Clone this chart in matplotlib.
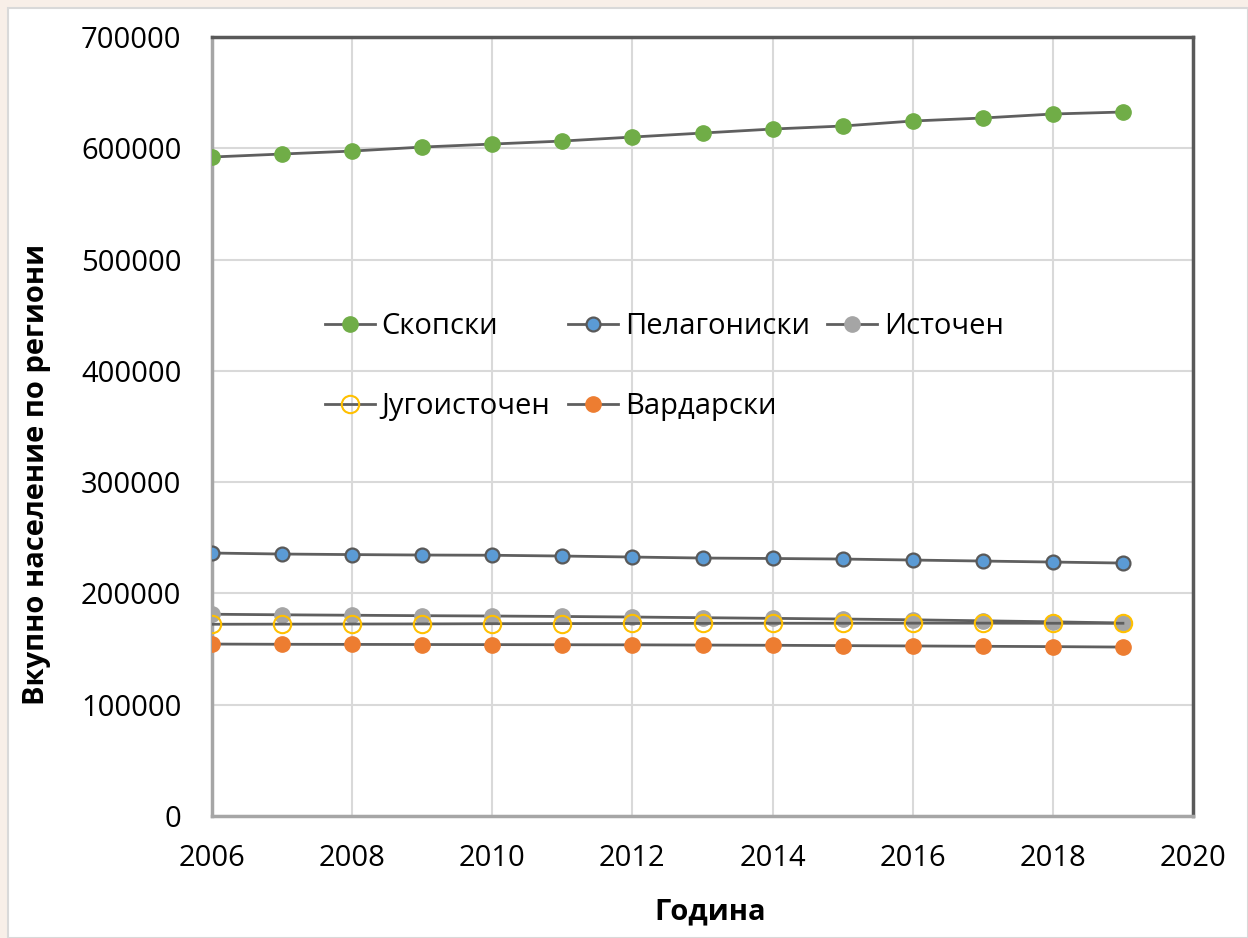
import matplotlib
matplotlib.use("Agg")
import matplotlib.pyplot as plt
from matplotlib.patches import Rectangle

plt.rcParams['font.family'] = ['Open Sans', 'DejaVu Sans']

years = list(range(2006, 2020))
skopski = [592150, 594850, 597500, 601100, 603800, 606500, 610100, 613700,
           617300, 620000, 624500, 627200, 630800, 632600]
pelagoniski = [236300, 235400, 234900, 234500, 234300, 233600, 232700, 231800,
               231400, 230900, 230000, 229100, 228200, 227300]
istochen = [181300, 180800, 180400, 180000, 179700, 179300, 178800, 178200,
            177600, 177000, 176300, 175400, 174500, 173400]
jugoistochen = [172300, 172400, 172500, 172600, 172800, 172900, 173000, 173100,
                173200, 173200, 173300, 173300, 173200, 173200]
vardarski = [154500, 154300, 154200, 154100, 154000, 153900, 153800, 153600,
             153400, 153100, 152800, 152500, 152200, 151800]

series_names = ['Скопски', 'Пелагониски', 'Источен', 'Југоисточен', 'Вардарски']

FS = 21

fig = plt.figure(figsize=(12.48, 9.38), dpi=100)
fig.patch.set_facecolor('#f8efe8')
fig.patches.append(Rectangle((8/1248, 0), 1 - 8/1248, 1 - 8/938,
                             transform=fig.transFigure, facecolor='white',
                             edgecolor='#d9d9d9', linewidth=1.5, zorder=-10))

ax = fig.add_axes([212/1248, 1 - 816/938, (1193 - 212)/1248, (816 - 37)/938])
ax.set_zorder(1)
ax.set_facecolor('white')

line_color = '#5f5f5f'
h_sk, = ax.plot(years, skopski, color=line_color, lw=2, marker='o', ms=11,
                mfc='#70ad47', mec='#70ad47', label=series_names[0], zorder=3)
h_pe, = ax.plot(years, pelagoniski, color=line_color, lw=2, marker='o', ms=10,
                mfc='#5b9bd5', mec='#595959', mew=1.6, label=series_names[1], zorder=3)
h_is, = ax.plot(years, istochen, color=line_color, lw=2, marker='o', ms=11,
                mfc='#a5a5a5', mec='#a5a5a5', label=series_names[2], zorder=3)
h_ju, = ax.plot(years, jugoistochen, color=line_color, lw=2, marker='o', ms=12.5,
                mfc='none', mec='#ffc000', mew=1.5, label=series_names[3], zorder=4)
h_va, = ax.plot(years, vardarski, color=line_color, lw=2, marker='o', ms=11,
                mfc='#ed7d31', mec='#ed7d31', label=series_names[4], zorder=3)

ax.set_xlim(2006, 2020)
ax.set_ylim(0, 700000)
ax.set_xticks(range(2006, 2021, 2))
ax.set_yticks(range(0, 700001, 100000))
ax.grid(True, color='#d9d9d9', lw=1.5, zorder=0)
ax.set_axisbelow(True)
ax.tick_params(length=0, labelsize=FS, colors='black')
ax.tick_params(axis='x', pad=20)
ax.tick_params(axis='y', pad=22)

for s in ['top', 'right']:
    ax.spines[s].set_color('#595959')
    ax.spines[s].set_linewidth(2.5)
for s in ['left', 'bottom']:
    ax.spines[s].set_color('#a6a6a6')
    ax.spines[s].set_linewidth(2.5)

ax.set_xlabel('Година', fontsize=FS, fontweight='bold')
ax.set_ylabel('Вкупно население по региони', fontsize=FS, fontweight='bold')
ax.xaxis.set_label_coords(0.508, -0.105)
ax.yaxis.set_label_coords(-0.164, 0.438)

handles = [h_sk, h_ju, h_pe, h_va, h_is]
leg = ax.legend(handles=handles, labels=[h.get_label() for h in handles],
                ncol=3, loc='upper left', bbox_to_anchor=(0.115, 0.647),
                frameon=False, fontsize=FS, handlelength=1.71, handletextpad=0.24,
                columnspacing=0.6, labelspacing=1.76, borderaxespad=0, borderpad=0)

fig.savefig('out.png', dpi=100, facecolor=fig.get_facecolor())
